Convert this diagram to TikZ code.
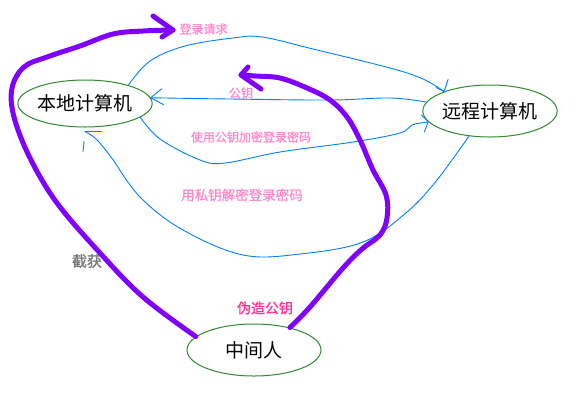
\documentclass[tikz,border=0pt]{standalone}
\usepackage{fontspec}
\newfontfamily\cjk{Noto Sans CJK SC}
\newfontfamily\cjkb[FakeBold=1]{Noto Sans CJK SC}
\usetikzlibrary{shapes.geometric}
\definecolor{pur}{HTML}{8000FF}
\definecolor{blu}{HTML}{0080FF}
\definecolor{lpink}{HTML}{FF88CC}
\definecolor{dpink}{HTML}{FF3399}
\definecolor{grn}{HTML}{2E8B2E}
\definecolor{gry}{HTML}{777777}
\begin{document}
\begin{tikzpicture}[x=1pt,y=-1pt,
  pc/.style={ellipse,draw=grn,line width=1pt,inner sep=0pt,font={\cjk\fontsize{19}{19}\selectfont}},
  lbl/.style={inner sep=0pt,text=lpink,font={\cjkb\fontsize{12}{12}\selectfont}},
  pline/.style={draw=pur,line width=5pt,line cap=round,line join=round},
  bline/.style={draw=blu,line width=0.9pt,line cap=round,line join=round}]
\useasboundingbox[fill=white] (0,0) rectangle (577,416);

% computers
\node[pc,minimum width=124pt,minimum height=47pt] (local) at (85,103.5) {本地计算机};
\node[pc,minimum width=120pt,minimum height=52pt] (remote) at (490,111) {远程计算机};
\node[pc,minimum width=134pt,minimum height=52pt] (mitm) at (254,350) {中间人};

% labels
\node[lbl] (l1) at (203.5,29) {登录请求};
\node[lbl] (l2) at (241,93) {公钥};
\node[lbl] (l3) at (251,137) {使用公钥加密登录密码};
\node[lbl,font={\cjkb\fontsize{13.5}{13.5}\selectfont}] (l4) at (242,195) {用私钥解密登录密码};
\node[inner sep=0pt,text=gry,font={\cjkb\fontsize{15}{15}\selectfont}] (l5) at (87,261) {截获};
\node[inner sep=0pt,text=dpink,font={\cjkb\fontsize{14}{14}\selectfont}] (l6) at (265,308) {伪造公钥};

% blue arrow tips
\coordinate (ta) at (remote.157);
\coordinate (tb) at (local.5);
\coordinate (tc) at (remote.190);
\coordinate (td) at ([yshift=-4pt]local.south);

% login request
\draw[bline] plot[smooth,tension=0.6] coordinates {(local.23) (150,61) (185,46) (233,38) (262,37) (313,49) (390,68) (423,79) (ta)};
\draw[bline] (ta) -- ++(-8,-4);
\draw[bline] (ta) -- ++(4,-12);

% public key
\draw[bline] plot[smooth,tension=0.6] coordinates {(remote.172) (390,98) (330,100) (230,99) (tb)};
\draw[bline] (tb) -- ++(11,-9);
\draw[bline] (tb) -- ++(13,7);

% encrypted password
\draw[bline] plot[smooth,tension=0.6] coordinates {(local.-14) (160,139) (200,160) (225,163) (280,152) (353,142) (400,133) (412,125) (tc)};
\draw[bline] (tc) -- ++(-7,-7);
\draw[bline] (tc) -- ++(-4,10);

% decrypt
\draw[bline] plot[smooth,tension=0.6] coordinates {(remote.230) (437,180) (407,212) (363,242) (300,254) (243,255) (183,230) (140,197) (111,157) (96,139) (td)};
\draw[bline] (td) -- ++(17,0);
\draw[bline] ([shift={(-1,10)}]td) -- ++(-1,10);

% man in the middle: intercept
\coordinate (tp1) at (173,30);
\draw[pline] plot[smooth,tension=0.6] coordinates {(mitm.167) (143,297) (100,253) (57,203) (30,158) (14,117) (12,88) (24,67) (47,57) (80,46) (113,34) (143,31) (tp1)};
\draw[pline] (153,16) -- (tp1) -- (162,37);

% forged key
\coordinate (tp2) at (241,75);
\draw[pline] plot[smooth,tension=0.6] coordinates {(mitm.32) (310,307) (343,268) (362,249) (380,235) (387,218) (386,195) (373,170) (360,140) (347,117) (330,100) (307,88) (280,78) (255,76) (tp2)};
\draw[pline] (248,67) -- (tp2) -- (261,89);
\end{tikzpicture}
\end{document}
